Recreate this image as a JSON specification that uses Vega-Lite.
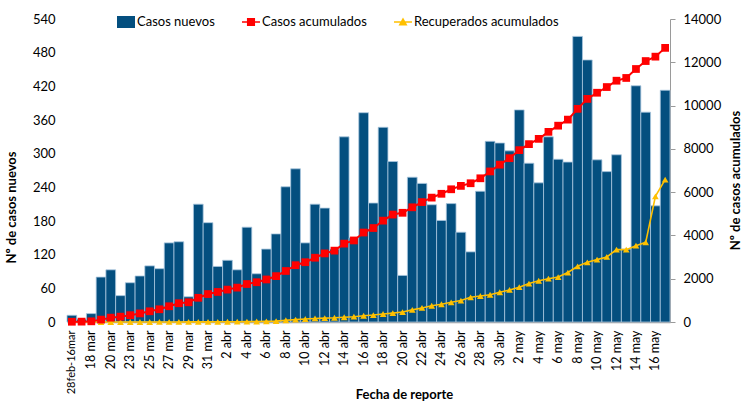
{
  "$schema": "https://vega.github.io/schema/vega-lite/v6.json",
  "width": 603,
  "height": 303,
  "autosize": {"type": "none"},
  "padding": {"left": 67, "top": 19, "right": 74, "bottom": 80},
  "background": "white",
  "config": {
    "view": {"stroke": null},
    "font": "Lato",
    "axis": {"labelFont": "Lato", "titleFont": "Lato", "grid": false, "labelColor": "#000", "titleColor": "#000"},
    "legend": {"labelFont": "Lato"}
  },
  "data": {"values": [
    {"fecha": "28feb-16mar", "nuevos": 12, "acum": 12, "recup": 0},
    {"fecha": "17 mar", "nuevos": 5, "acum": 17, "recup": 0},
    {"fecha": "18 mar", "nuevos": 15, "acum": 31, "recup": 0},
    {"fecha": "19 mar", "nuevos": 80, "acum": 110, "recup": 0},
    {"fecha": "20 mar", "nuevos": 93, "acum": 201, "recup": 0},
    {"fecha": "22 mar", "nuevos": 47, "acum": 247, "recup": 0},
    {"fecha": "23 mar", "nuevos": 70, "acum": 316, "recup": 1},
    {"fecha": "24 mar", "nuevos": 82, "acum": 397, "recup": 1},
    {"fecha": "25 mar", "nuevos": 100, "acum": 495, "recup": 1},
    {"fecha": "26 mar", "nuevos": 95, "acum": 588, "recup": 2},
    {"fecha": "27 mar", "nuevos": 141, "acum": 727, "recup": 3},
    {"fecha": "28 mar", "nuevos": 143, "acum": 867, "recup": 3},
    {"fecha": "29 mar", "nuevos": 45, "acum": 911, "recup": 4},
    {"fecha": "30 mar", "nuevos": 210, "acum": 1118, "recup": 5},
    {"fecha": "31 mar", "nuevos": 177, "acum": 1291, "recup": 7},
    {"fecha": "1 abr", "nuevos": 99, "acum": 1389, "recup": 9},
    {"fecha": "2 abr", "nuevos": 110, "acum": 1497, "recup": 12},
    {"fecha": "3 abr", "nuevos": 93, "acum": 1588, "recup": 15},
    {"fecha": "4 abr", "nuevos": 169, "acum": 1754, "recup": 19},
    {"fecha": "5 abr", "nuevos": 86, "acum": 1838, "recup": 24},
    {"fecha": "6 abr", "nuevos": 130, "acum": 1966, "recup": 30},
    {"fecha": "7 abr", "nuevos": 157, "acum": 2120, "recup": 40},
    {"fecha": "8 abr", "nuevos": 241, "acum": 2357, "recup": 80},
    {"fecha": "9 abr", "nuevos": 273, "acum": 2625, "recup": 110},
    {"fecha": "10 abr", "nuevos": 141, "acum": 2763, "recup": 140},
    {"fecha": "11 abr", "nuevos": 210, "acum": 2970, "recup": 165},
    {"fecha": "12 abr", "nuevos": 203, "acum": 3169, "recup": 180},
    {"fecha": "13 abr", "nuevos": 130, "acum": 3297, "recup": 195},
    {"fecha": "14 abr", "nuevos": 330, "acum": 3621, "recup": 220},
    {"fecha": "15 abr", "nuevos": 150, "acum": 3768, "recup": 245},
    {"fecha": "16 abr", "nuevos": 373, "acum": 4134, "recup": 290},
    {"fecha": "17 abr", "nuevos": 212, "acum": 4342, "recup": 320},
    {"fecha": "18 abr", "nuevos": 347, "acum": 4683, "recup": 370},
    {"fecha": "19 abr", "nuevos": 286, "acum": 4964, "recup": 410},
    {"fecha": "20 abr", "nuevos": 83, "acum": 5046, "recup": 460},
    {"fecha": "21 abr", "nuevos": 258, "acum": 5299, "recup": 560},
    {"fecha": "22 abr", "nuevos": 247, "acum": 5541, "recup": 650},
    {"fecha": "23 abr", "nuevos": 209, "acum": 5747, "recup": 750},
    {"fecha": "24 abr", "nuevos": 181, "acum": 5924, "recup": 820},
    {"fecha": "25 abr", "nuevos": 211, "acum": 6132, "recup": 910},
    {"fecha": "26 abr", "nuevos": 160, "acum": 6289, "recup": 990},
    {"fecha": "27 abr", "nuevos": 125, "acum": 6411, "recup": 1140},
    {"fecha": "28 abr", "nuevos": 233, "acum": 6640, "recup": 1200},
    {"fecha": "29 abr", "nuevos": 322, "acum": 6956, "recup": 1260},
    {"fecha": "30 abr", "nuevos": 319, "acum": 7270, "recup": 1375},
    {"fecha": "1 may", "nuevos": 305, "acum": 7569, "recup": 1480},
    {"fecha": "2 may", "nuevos": 378, "acum": 7940, "recup": 1610},
    {"fecha": "3 may", "nuevos": 283, "acum": 8218, "recup": 1775},
    {"fecha": "4 may", "nuevos": 248, "acum": 8462, "recup": 1905},
    {"fecha": "5 may", "nuevos": 330, "acum": 8786, "recup": 2000},
    {"fecha": "6 may", "nuevos": 290, "acum": 9071, "recup": 2075},
    {"fecha": "7 may", "nuevos": 285, "acum": 9351, "recup": 2285},
    {"fecha": "8 may", "nuevos": 509, "acum": 9850, "recup": 2574},
    {"fecha": "9 may", "nuevos": 467, "acum": 10309, "recup": 2759},
    {"fecha": "10 may", "nuevos": 289, "acum": 10593, "recup": 2882},
    {"fecha": "11 may", "nuevos": 268, "acum": 10856, "recup": 3005},
    {"fecha": "12 may", "nuevos": 298, "acum": 11149, "recup": 3343},
    {"fecha": "13 may", "nuevos": 130, "acum": 11276, "recup": 3343},
    {"fecha": "14 may", "nuevos": 421, "acum": 11690, "recup": 3528},
    {"fecha": "15 may", "nuevos": 374, "acum": 12057, "recup": 3682},
    {"fecha": "16 may", "nuevos": 207, "acum": 12260, "recup": 5805},
    {"fecha": "17 may", "nuevos": 413, "acum": 12666, "recup": 6574}
  ]},
  "encoding": {
    "x": {
      "field": "fecha", "type": "ordinal", "sort": null,
      "scale": {"paddingInner": 0, "paddingOuter": 0},
      "axis": {
        "values": ["28feb-16mar", "18 mar", "20 mar", "23 mar", "25 mar", "27 mar", "29 mar", "31 mar", "2 abr", "4 abr", "6 abr", "8 abr", "10 abr", "12 abr", "14 abr", "16 abr", "18 abr", "20 abr", "22 abr", "24 abr", "26 abr", "28 abr", "30 abr", "2 may", "4 may", "6 may", "8 may", "10 may", "12 may", "14 may", "16 may"],
        "labelAngle": -90,
        "labelFontSize": {"condition": {"test": "datum.label == '28feb-16mar'", "value": 11}, "value": 12.5},
        "labelPadding": 8,
        "ticks": false,
        "tickSize": 0,
        "domainColor": "#9a9a9a",
        "domainWidth": 1.5,
        "title": "Fecha de reporte",
        "titleFontSize": 13,
        "titleFontWeight": "bold",
        "titleX": 337,
        "titleY": 76,
        "titleBaseline": "alphabetic"
      }
    }
  },
  "layer": [
    {
      "mark": {"type": "bar", "color": "#044f7f", "stroke": "#a9c6de", "strokeWidth": 0.8},
      "encoding": {
        "y": {
          "field": "nuevos", "type": "quantitative",
          "scale": {"domain": [0, 540]},
          "axis": {
            "orient": "left",
            "values": [0, 60, 120, 180, 240, 300, 360, 420, 480, 540],
            "domain": false, "ticks": false, "tickSize": 0,
            "labelPadding": 12, "labelFontSize": 13,
            "title": "Nº de casos nuevos",
            "titleFontSize": 13, "titleFontWeight": "bold",
            "titleX": -49, "titleY": 188
          }
        }
      }
    },
    {
      "layer": [
        {
          "mark": {"type": "line", "color": "#ffc000", "strokeWidth": 1.6},
          "encoding": {
            "y": {
              "field": "recup", "type": "quantitative",
              "scale": {"domain": [0, 14000]},
              "title": "Nº de casos acumulados",
              "axis": {
                "orient": "right",
                "values": [0, 2000, 4000, 6000, 8000, 10000, 12000, 14000],
                "format": "d",
                "domainColor": "#9a9a9a", "tickColor": "#9a9a9a", "tickSize": 5,
                "labelPadding": 8, "labelFontSize": 13,
                "title": "Nº de casos acumulados",
                "titleFontSize": 13, "titleFontWeight": "bold",
                "titleAngle": 270, "titleX": 72, "titleY": 161
              }
            }
          }
        },
        {
          "mark": {"type": "point", "shape": "triangle-up", "filled": true, "color": "#ffc000", "size": 45, "opacity": 1},
          "encoding": {"y": {"field": "recup", "type": "quantitative", "title": "Nº de casos acumulados"}}
        },
        {
          "mark": {"type": "line", "color": "#ff0000", "strokeWidth": 2},
          "encoding": {"y": {"field": "acum", "type": "quantitative", "title": "Nº de casos acumulados"}}
        },
        {
          "mark": {"type": "point", "shape": "square", "filled": true, "color": "#ff0000", "size": 60, "opacity": 1},
          "encoding": {"y": {"field": "acum", "type": "quantitative", "title": "Nº de casos acumulados"}}
        },
        {
          "transform": [{"filter": "false"}],
          "mark": {"type": "point", "filled": true, "opacity": 1},
          "encoding": {
            "color": {
              "field": "serie", "type": "nominal",
              "scale": {"domain": ["Casos nuevos", "Casos acumulados", "Recuperados acumulados"], "range": ["#044f7f", "#ff0000", "#ffc000"]},
              "legend": {
                "orient": "none", "legendX": 50, "legendY": -6, "direction": "horizontal",
                "title": null, "symbolSize": 324, "symbolStrokeWidth": 0,
                "labelFontSize": 13, "labelColor": "#000", "labelOffset": 2, "columnPadding": 27, "padding": 0
              }
            },
            "shape": {
              "field": "serie", "type": "nominal",
              "scale": {"domain": ["Casos nuevos", "Casos acumulados", "Recuperados acumulados"],
                "range": ["M-1,-0.67H1V0.67H-1Z", "M-1,-0.09H1V0.09H-1Z M-0.45,-0.45H0.45V0.45H-0.45Z", "M-1,-0.07H1V0.07H-1Z M0,-0.5L0.5,0.4H-0.5Z"]},
              "legend": {
                "orient": "none", "legendX": 50, "legendY": -6, "direction": "horizontal",
                "title": null, "symbolSize": 324, "symbolStrokeWidth": 0,
                "labelFontSize": 13, "labelColor": "#000", "labelOffset": 2, "columnPadding": 27, "padding": 0
              }
            }
          }
        }
      ]
    }
  ],
  "resolve": {"scale": {"y": "independent"}}
}
